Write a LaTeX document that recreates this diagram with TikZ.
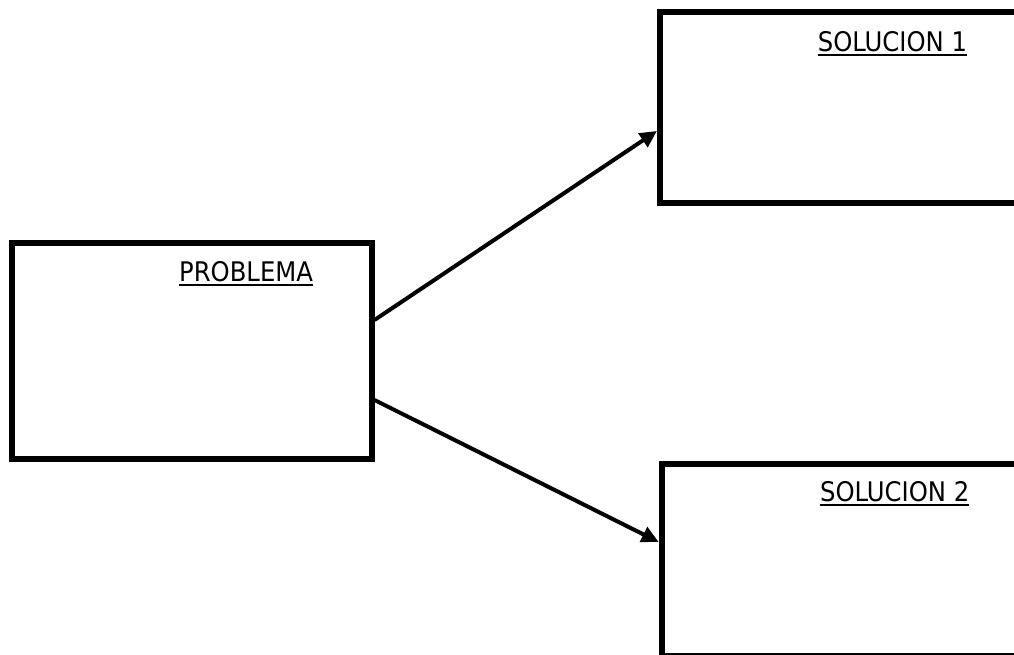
\documentclass[tikz,border=0pt]{standalone}
\usepackage{fontspec}
\setmainfont{DejaVu Sans Condensed}
\usepackage{tikz}
\usetikzlibrary{arrows.meta, positioning}
\tikzset{
	cuadro/.style={draw=black, line width=6pt, rectangle, inner sep=0pt}
}
\tikzset{
	flecha/.style={line width=4pt, draw=black, -{Triangle[length=17pt,width=16pt]}}
}
\tikzset{
	titulo/.style={anchor=base west, inner sep=0pt, font=\fontsize{27}{30}\selectfont}
}
\tikzset{
	subrayado/.style={line width=2.2pt, draw=black}
}

\begin{document}
\begin{tikzpicture}[x=1pt, y=-1pt]

		% frame of the page
		\useasboundingbox (0,0) rectangle (1014,655);

		% boxes
		\node[cuadro, minimum width=359.5pt, minimum height=216pt] (problema) at (191.75, 350.5) {};
		\node[cuadro, minimum width=370pt, minimum height=191.3pt] (solucion1) at (845, 107.35) {};
		\node[cuadro, minimum width=368.3pt, minimum height=192pt] (solucion2) at (845.85, 560) {};

		% titles
		\node[titulo] (tproblema) at (179, 281.7) {PROBLEMA};
		\node[titulo] (tsolucion1) at (817.7, 51.7) {SOLUCION 1};
		\node[titulo] (tsolucion2) at (820, 501.7) {SOLUCION 2};

		\draw[subrayado] ([yshift=-3.5pt]tproblema.base west) -- ([yshift=-3.5pt]tproblema.base east);
		\draw[subrayado] ([yshift=-3.5pt]tsolucion1.base west) -- ([yshift=-3.5pt]tsolucion1.base east);
		\draw[subrayado] ([yshift=-3.5pt]tsolucion2.base west) -- ([yshift=-3.5pt]tsolucion2.base east);

		% arrows
		\draw[flecha] ([yshift=30.5pt]problema.east) -- ([yshift=-23.6pt]solucion1.west);
		\draw[flecha] ([yshift=-49.5pt]problema.east) -- ([yshift=18pt]solucion2.west);

	\end{tikzpicture}
\end{document}
